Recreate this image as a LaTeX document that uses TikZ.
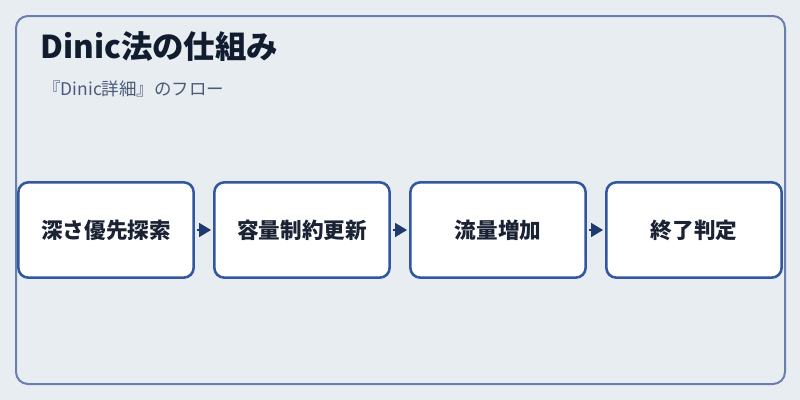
\documentclass[tikz,border=0pt]{standalone}
\usepackage{fontspec}
\setmainfont{Noto Sans CJK JP}
\usetikzlibrary{arrows.meta}
\definecolor{bg}{HTML}{E8EDF2}
\definecolor{frame}{HTML}{6A7FAE}
\definecolor{boxline}{HTML}{3157A0}
\definecolor{arrowc}{HTML}{1F3A6E}
\definecolor{titlec}{HTML}{111C2E}
\definecolor{subc}{HTML}{4A5A78}
\definecolor{textc}{HTML}{1A2233}
\tikzset{
  stepbox/.style={draw=boxline, line width=1.9pt, fill=white, rounded corners=7.5pt,
    minimum width=131.5pt, minimum height=71.5pt, inner sep=0pt, text=textc,
    font=\fontsize{16.2pt}{19pt}\selectfont\bfseries, anchor=center},
  flow/.style={draw=arrowc, line width=1.2pt, -{Triangle[length=9pt,width=10.5pt]},
    shorten <=1.5pt, shorten >=1.5pt}
}
\begin{document}
\begin{tikzpicture}[x=0.75pt,y=-0.75pt]
\fill[bg] (0,0) rectangle (800,400);
\useasboundingbox (0,0) rectangle (800,400);
\draw[frame, line width=1.5pt, fill=bg, rounded corners=9pt] (16,16) rectangle (785,384);
\node[anchor=base west, text=titlec, font=\fontsize{23.6pt}{28pt}\selectfont\bfseries, inner sep=0pt] (title) at (40,58) {Dinic法の仕組み};
\node[anchor=base west, text=subc, font=\fontsize{13.1pt}{16pt}\selectfont, inner sep=0pt] (sub) at (43,95) {『Dinic詳細』のフロー};
\node[stepbox] (s1) at (106,230) {深さ優先探索};
\node[stepbox] (s2) at (302,230) {容量制約更新};
\node[stepbox] (s3) at (498,230) {流量増加};
\node[stepbox] (s4) at (694,230) {終了判定};
\draw[flow] (s1) -- (s2);
\draw[flow] (s2) -- (s3);
\draw[flow] (s3) -- (s4);
\end{tikzpicture}
\end{document}
